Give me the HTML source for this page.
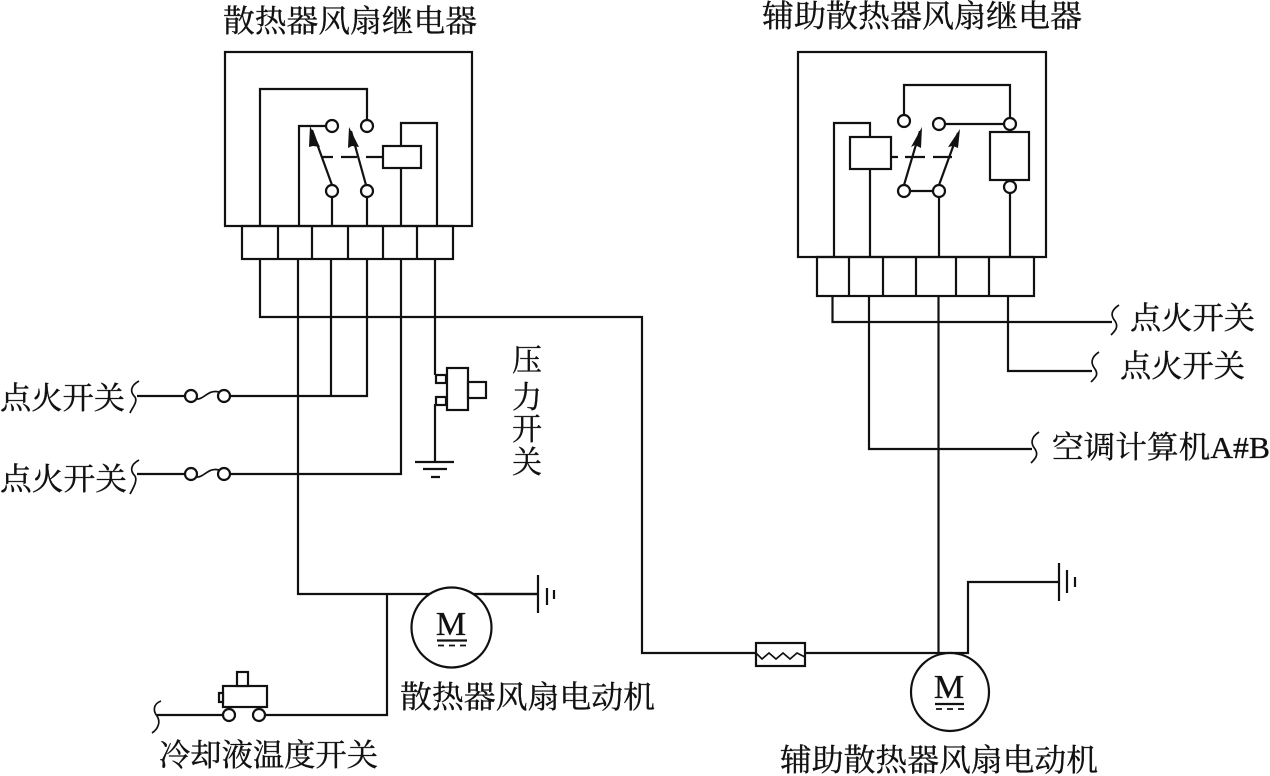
<!DOCTYPE html>
<html lang="zh">
<head>
<meta charset="utf-8">
<title>散热器风扇继电器电路图</title>
<style>
html,body{margin:0;padding:0;background:#fff;width:1270px;height:776px;overflow:hidden}
svg{display:block}
text{font-family:"Liberation Serif","Noto Serif CJK SC",serif;fill:#111;font-size:31px;stroke:#111;stroke-width:.35}
.l{fill:none;stroke:#111;stroke-width:2.2;stroke-linejoin:miter}
.t{fill:none;stroke:#111;stroke-width:1.7}
.c{fill:#fff;stroke:#111;stroke-width:2.2}
.a{fill:#111;stroke:none}
</style>
</head>
<body>
<svg width="1270" height="776" viewBox="0 0 1270 776" xmlns="http://www.w3.org/2000/svg">
<!-- left relay -->
<rect class="l" x="225" y="52" width="247" height="174"/>
<rect class="l" x="242" y="226" width="211" height="33"/>
<path class="l" d="M278 226V259M312 226V259M348 226V259M383 226V259M417 226V259"/>
<path class="l" d="M260 226V89H367V119M299 226V126H326M332 197V226M367 197V226"/>
<path class="l" d="M332 185L312 130M366 185L351 131"/>
<path class="a" d="M310 126L320 147L313 146L309 147Z"/>
<path class="a" d="M349 127L359 147L352 146L348 148Z"/>
<path class="l" d="M321 157H333M341 157H357M366 157H383"/>
<rect class="l" x="383" y="146" width="38" height="22"/>
<path class="l" d="M401 146V123H437V226M401 168V226"/>
<circle class="c" cx="332" cy="126" r="6"/><circle class="c" cx="367" cy="126" r="6"/>
<circle class="c" cx="332" cy="191" r="6"/><circle class="c" cx="367" cy="191" r="6"/>
<!-- left wiring -->
<path class="l" d="M260 259V317H642V653H756"/>
<path class="l" d="M298 259V594H538M331 259V396M367 259V396H229M401 259V474H229M435 259V375M435 404V462"/>
<path class="l" d="M387 594V715H264M224 715H157"/>
<path class="l" d="M137 396H184M137 474H184"/>
<path class="t" d="M139 381C130 386 130 392 135 397C138 402 132 408 130 413"/>
<path class="t" d="M139 460C130 465 130 471 135 476C138 481 132 490 130 494"/>
<circle class="c" cx="191" cy="396" r="6"/><circle class="c" cx="224" cy="396" r="6"/>
<path class="t" d="M196 399C204 400 208 389 219 392"/>
<circle class="c" cx="191" cy="474" r="6"/><circle class="c" cx="224" cy="474" r="6"/>
<path class="t" d="M196 477C204 478 208 467 219 470"/>
<!-- pressure switch -->
<rect class="l" x="436" y="375" width="10" height="8"/>
<rect class="l" x="436" y="397" width="10" height="8"/>
<rect class="l" x="447" y="368" width="21" height="42"/>
<rect class="l" x="468" y="382" width="18" height="16"/>
<path class="l" d="M415 462H454M423 469H447M431 477H440"/>
<!-- left motor -->
<circle class="c" cx="451.5" cy="627.5" r="40"/>
<path class="l" d="M484 594H538"/>
<path class="l" d="M538 575V613M547 588V605"/><path class="l" d="M554 590V599"/>
<text x="451" y="635" text-anchor="middle" style="font-size:34px">M</text>
<path class="l" d="M437 640.5H467"/>
<path class="t" d="M438 645.5H444M449 645.5H455M460 645.5H466"/>
<!-- coolant switch -->
<rect class="c" x="223" y="686" width="44" height="21"/>
<rect class="c" x="237" y="672" width="11" height="14"/>
<rect class="c" x="219" y="693" width="4" height="9"/>
<circle class="c" cx="229" cy="715" r="6"/><circle class="c" cx="259" cy="715" r="6"/>
<path class="t" d="M161 701C153 704 153 711 157 716C161 722 158 729 152 733"/>
<!-- right relay -->
<rect class="l" x="798" y="52" width="248" height="205"/>
<rect class="l" x="817" y="257" width="217" height="39"/>
<path class="l" d="M849 257V296M883 257V296M916 257V296M956 257V296M989 257V296"/>
<path class="l" d="M834 257V123H870V137M870 169V257"/>
<rect class="l" x="850" y="137" width="41" height="32"/>
<path class="l" d="M892 157H898M905 157H925M933 157H952"/>
<path class="l" d="M904 115V85H1010V118M945 124H1004M910 191H933M939 197V257M1010 193V257"/>
<path class="l" d="M904 185L920 131M939 185L958 133"/>
<path class="a" d="M922 127L921 148L915 145L911 147Z"/>
<path class="a" d="M960 129L958 148L953 146L948 147Z"/>
<rect class="c" x="990" y="132" width="39" height="48"/>
<circle class="c" cx="904" cy="121" r="6"/><circle class="c" cx="939" cy="124" r="6"/>
<circle class="c" cx="1010" cy="124" r="6"/><circle class="c" cx="904" cy="191" r="6"/>
<circle class="c" cx="939" cy="191" r="6"/><circle class="c" cx="1010" cy="187" r="6"/>
<!-- right wiring -->
<path class="l" d="M832.5 296V322H1112M869 296V449H1032M938.5 296V653M1008 296V371H1092"/>
<path class="t" d="M1119 305C1110 311 1111 316 1115 321C1119 327 1115 331 1111 335"/>
<path class="t" d="M1099 352C1090 358 1091 364 1095 369C1099 375 1095 378 1091 382"/>
<path class="t" d="M1039 432C1030 438 1031 444 1035 449C1039 455 1035 459 1031 463"/>
<!-- right fuse and motor -->
<path class="l" d="M805 653H968V582H1059"/>
<rect class="l" x="756" y="643" width="49" height="23"/>
<path class="t" d="M756 653L762 659L769 653L776 659L783 653L790 659L797 653L805 657"/>
<path class="l" d="M1059 563V601M1067 570V593"/><path class="l" d="M1075 577V587"/>
<circle class="c" cx="950" cy="692" r="39"/>
<text x="949" y="698" text-anchor="middle" style="font-size:34px">M</text>
<path class="l" d="M935 704H964"/>
<path class="t" d="M936 709H942M947 709H953M958 709H964"/>
<!-- labels -->
<text x="223" y="32" textLength="254" lengthAdjust="spacingAndGlyphs">散热器风扇继电器</text>
<text x="762" y="27" textLength="320" lengthAdjust="spacingAndGlyphs">辅助散热器风扇继电器</text>
<text x="0" y="409" textLength="125" lengthAdjust="spacingAndGlyphs">点火开关</text>
<text x="0" y="490" textLength="127" lengthAdjust="spacingAndGlyphs">点火开关</text>
<text x="1130" y="329" textLength="125" lengthAdjust="spacingAndGlyphs">点火开关</text>
<text x="1120" y="377" textLength="125" lengthAdjust="spacingAndGlyphs">点火开关</text>
<text x="1052" y="458" textLength="218" lengthAdjust="spacingAndGlyphs">空调计算机A#B</text>
<text x="512" y="371" textLength="30" lengthAdjust="spacingAndGlyphs">压</text>
<text x="512" y="408" textLength="30" lengthAdjust="spacingAndGlyphs">力</text>
<text x="512" y="440" textLength="30" lengthAdjust="spacingAndGlyphs">开</text>
<text x="512" y="473" textLength="30" lengthAdjust="spacingAndGlyphs">关</text>
<text x="400" y="708" textLength="255" lengthAdjust="spacingAndGlyphs">散热器风扇电动机</text>
<text x="159" y="766" textLength="219" lengthAdjust="spacingAndGlyphs">冷却液温度开关</text>
<text x="780" y="771" textLength="318" lengthAdjust="spacingAndGlyphs">辅助散热器风扇电动机</text>
</svg>
</body>
</html>
